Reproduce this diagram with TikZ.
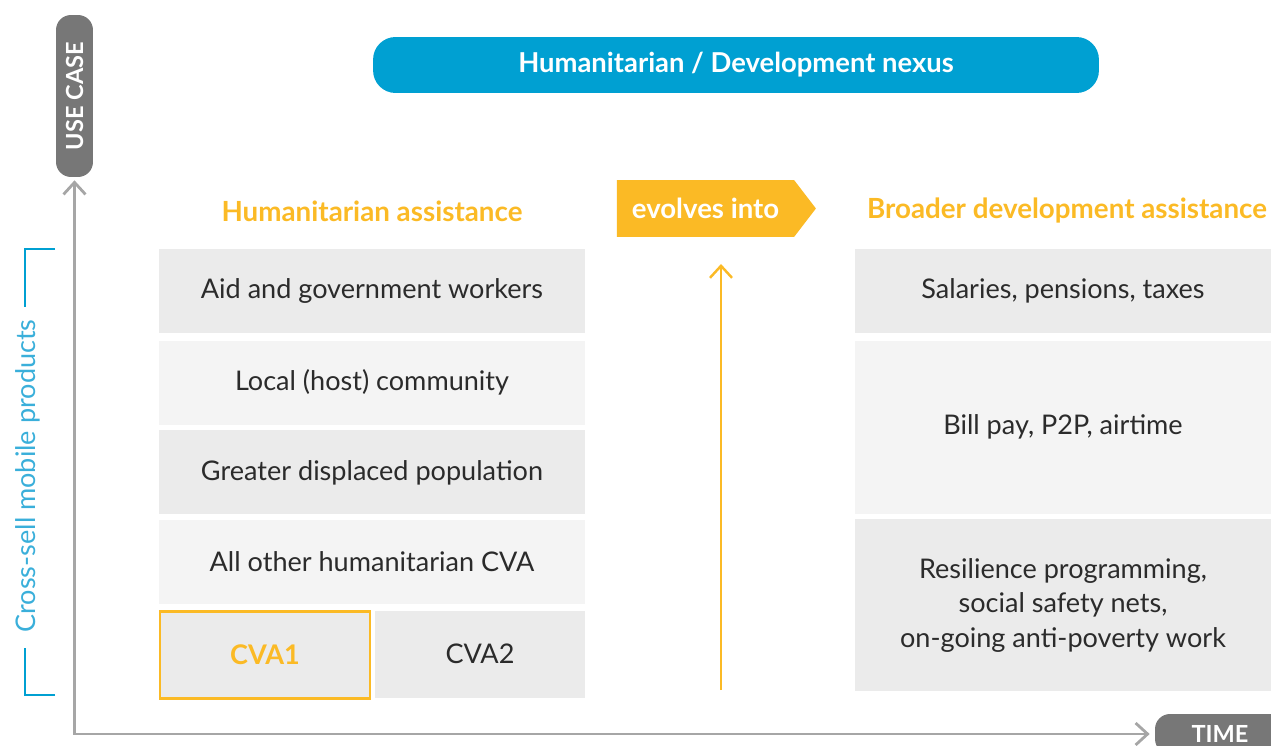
\documentclass[tikz,border=0pt]{standalone}
\usepackage{fontspec}
\setmainfont{Lato}
\usepackage{xcolor}
\usetikzlibrary{positioning, arrows.meta, shapes.symbols}

\definecolor{nexusblue}{HTML}{00A0D2}
\definecolor{evolveorange}{HTML}{FBBA25}
\definecolor{pillgray}{HTML}{777777}
\definecolor{axisgray}{HTML}{A6A6A6}
\definecolor{boxdark}{HTML}{EBEBEB}
\definecolor{boxlight}{HTML}{F4F4F4}
\definecolor{crossblue}{HTML}{3AAFDA}
\definecolor{textgray}{HTML}{2B2B2B}

\begin{document}
\begin{tikzpicture}[x=0.02cm, y=-0.02cm, font=\fontsize{15.4}{19.6}\selectfont]
    % Styles
    \tikzstyle{cell} = [rectangle, fill=boxdark, text=textgray, align=center, inner sep=0pt, minimum width=8.52cm, minimum height=1.68cm]
    \tikzstyle{lightcell} = [cell, fill=boxlight]
    \tikzstyle{devcell} = [cell, minimum width=8.32cm]
    \tikzstyle{heading} = [text=evolveorange, font=\fontsize{15.8}{19}\selectfont\bfseries]
    \tikzstyle{pill} = [rectangle, rounded corners=0.3cm, fill=pillgray, text=white, font=\fontsize{13.4}{16}\selectfont\bfseries, inner sep=0pt]
    \tikzstyle{axis} = [draw=axisgray, line width=1.6pt, {Straight Barb[length=2.4mm,width=4.4mm]}-{Straight Barb[length=2.4mm,width=4.4mm]}]
    \tikzstyle{rise} = [draw=evolveorange, line width=1.4pt, -{Straight Barb[length=2.4mm,width=4.4mm]}]
    \tikzstyle{bracket} = [draw=nexusblue, line width=1.6pt]

    \clip (0,0) rectangle (1271,746);

    % --- TOP BANNER ---
    \node[rectangle, rounded corners=0.45cm, fill=nexusblue, text=white, font=\fontsize{15.6}{19}\selectfont\bfseries, minimum width=14.52cm, minimum height=1.12cm] (nexus) at (736,65) {Humanitarian / Development nexus};

    % --- AXES ---
    \node[pill, rotate=90, minimum width=3.24cm, minimum height=0.74cm] (usecase) at (74.5,96) {USE CASE};
    \node[pill, minimum width=2.6cm, minimum height=0.8cm] (time) at (1220,734) {TIME};
    \draw[axis, shorten <=0.1cm, shorten >=0.06cm] (time.west) -| (usecase.west);

    % Cross-sell bracket on the left
    \node[rotate=90, text=crossblue] (crosssell) at (28,476) {Cross-sell mobile products};
    \coordinate (brtop) at (55,249);
    \coordinate (brbot) at (55,695);
    \draw[bracket] (brtop) -| (25,307);
    \draw[bracket] (brbot) -| (25,648);

    % --- HUMANITARIAN ASSISTANCE ---
    \node[heading] (hum) at (372,211) {Humanitarian assistance};
    \node[cell] (aid) at (372,291) {Aid and government workers};
    \node[lightcell, below=0.14cm of aid] (host) {Local (host) community};
    \node[cell, below=0.1cm of host] (displaced) {Greater displaced population};
    \node[lightcell, below=0.1cm of displaced] (othercva) {All other humanitarian CVA};
    \node[cell, draw=evolveorange, line width=1.4pt, minimum width=4.2cm, minimum height=1.74cm, text=evolveorange, font=\fontsize{15.4}{19}\selectfont\bfseries, below=0.12cm of othercva.south west, anchor=north west] (cvaone) {CVA1};
    \node[cell, minimum width=4.2cm, minimum height=1.74cm, below=0.12cm of othercva.south east, anchor=north east] (cvatwo) {CVA2};

    % --- EVOLVES INTO ---
    \node[signal, signal to=east, signal pointer angle=105, fill=evolveorange, text=white, font=\fontsize{15.7}{19}\selectfont\bfseries, minimum width=3.98cm, minimum height=1.14cm, inner sep=0pt] (evolve) at (705.5,208.5) {evolves into};
    \coordinate (risebase) at (721,690);
    \coordinate (risetop) at (721,264);
    \draw[rise] (risebase) -- (risetop);

    % --- BROADER DEVELOPMENT ASSISTANCE ---
    \node[heading] (broad) at (1067,211) {Broader development assistance};
    \node[devcell] (salaries) at (1063,291) {Salaries, pensions, taxes};
    \node[devcell, fill=boxlight, minimum height=3.46cm, below=0.14cm of salaries] (billpay) {Bill pay, P2P, airtime};
    \node[devcell, minimum height=3.44cm, below=0.1cm of billpay] (resilience) {Resilience programming,\\social safety nets,\\on-going anti-poverty work};

\end{tikzpicture}
\end{document}
